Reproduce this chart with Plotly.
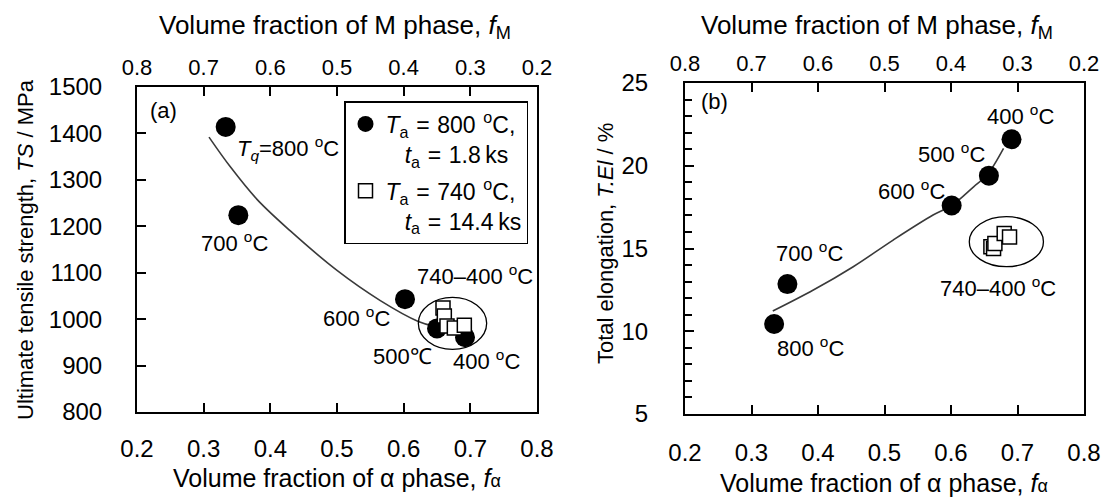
import plotly.graph_objects as go

# ---------------- data ----------------
# Panel (a): ultimate tensile strength
a_circle_f = [0.333, 0.352, 0.602, 0.650, 0.692]          # 800,700,600,500,400 C
a_circle_ts = [1414, 1224, 1043, 980, 961]
a_square_f = [0.659, 0.661, 0.665, 0.676, 0.691]
a_square_ts = [1024, 1007, 985, 981, 987]
a_curve_f = [0.308, 0.340, 0.380, 0.430, 0.500, 0.565, 0.622, 0.645]
a_curve_ts = [1392, 1328, 1258, 1190, 1105, 1040, 995, 985]

# Panel (b): total elongation
b_circle_f = [0.334, 0.354, 0.601, 0.657, 0.691]          # 800,700,600,500,400 C
b_circle_el = [10.44, 12.85, 17.6, 19.4, 21.6]
b_square_f = [0.660, 0.664, 0.666, 0.680, 0.688]
b_square_el = [15.1, 15.0, 15.3, 15.9, 15.7]
b_curve_f = [0.332, 0.393, 0.453, 0.513, 0.573, 0.601, 0.634, 0.654, 0.679]
b_curve_el = [11.22, 12.49, 13.9, 15.51, 17.02, 17.6, 18.73, 19.43, 21.05]

x_ticks = [0.2, 0.3, 0.4, 0.5, 0.6, 0.7, 0.8]
x_ticktext = ["0.2", "0.3", "0.4", "0.5", "0.6", "0.7", "0.8"]
ts_ticks = [800, 900, 1000, 1100, 1200, 1300, 1400, 1500]
el_ticks = [5, 10, 15, 20, 25]

DEG = "<sup>o</sup>C"
a_labels = [
    ("(a)", 0.239, 1450),
    ("<i>T</i><sub><i>q</i></sub>=800 " + DEG, 0.4265, 1368),
    ("700 " + DEG, 0.3455, 1167),
    ("740\u2013400 " + DEG, 0.707, 1095),
    ("600 " + DEG, 0.5295, 1005),
    ("500\u2103", 0.598, 919),
    ("400 " + DEG, 0.7245, 912),
]
b_labels = [
    ("(b)", 0.245, 23.87),
    ("400 " + DEG, 0.705, 23.07),
    ("500 " + DEG, 0.600, 20.79),
    ("600 " + DEG, 0.540, 18.53),
    ("700 " + DEG, 0.387, 14.81),
    ("800 " + DEG, 0.389, 9.07),
    ("740\u2013400 " + DEG, 0.670, 12.69),
]
a_ellipse = dict(x0=0.622, x1=0.7245, y0=935, y1=1047)
b_ellipse = dict(x0=0.6275, x1=0.739, y0=13.9, y1=16.92)

SP = "\u2004"
legend_circle = ("<i>T</i><sub>a</sub>" + SP + "=" + SP + "800" + SP + DEG + ",<br>\u00a0\u00a0\u00a0"
                 "<i>t</i><sub>a</sub>" + SP + "=" + SP + "1.8\u2009ks")
legend_square = ("<i>T</i><sub>a</sub>" + SP + "=" + SP + "740" + SP + DEG + ",<br>\u00a0\u00a0\u00a0"
                 "<i>t</i><sub>a</sub>" + SP + "=" + SP + "14.4\u2009ks")

# ---------------- figure ----------------
FONT = "Liberation Sans, Arial, sans-serif"
W, H = 1108, 502
fig = go.Figure()

line_style = dict(color="#3a3a3a", width=1.6, shape="spline")
circ = dict(symbol="circle", size=20, color="black")
sq = dict(symbol="square", size=14, color="white", line=dict(color="black", width=1.5))

fig.add_trace(go.Scatter(x=a_curve_f, y=a_curve_ts, mode="lines", line=line_style,
                         showlegend=False, xaxis="x", yaxis="y"))
fig.add_trace(go.Scatter(x=a_circle_f, y=a_circle_ts, mode="markers", marker=circ,
                         name=legend_circle, legendgroup="g1", xaxis="x", yaxis="y"))
fig.add_trace(go.Scatter(x=a_square_f, y=a_square_ts, mode="markers", marker=sq,
                         name=legend_square, legendgroup="g2", xaxis="x", yaxis="y"))

fig.add_trace(go.Scatter(x=b_curve_f, y=b_curve_el, mode="lines", line=line_style,
                         showlegend=False, xaxis="x2", yaxis="y2"))
fig.add_trace(go.Scatter(x=b_circle_f, y=b_circle_el, mode="markers", marker=circ,
                         showlegend=False, xaxis="x2", yaxis="y2"))
fig.add_trace(go.Scatter(x=b_square_f, y=b_square_el, mode="markers", marker=sq,
                         showlegend=False, xaxis="x2", yaxis="y2"))

axis_common = dict(showgrid=False, zeroline=False, showline=True, linecolor="black",
                   linewidth=2, ticks="inside", tickcolor="black", ticklen=9, tickwidth=1.5,
                   automargin=False)

dom_ax = [137 / W, 537 / W]
dom_bx = [685 / W, 1084 / W]
dom_ay = [1 - 412 / H, 1 - 87 / H]
dom_by = [1 - 414 / H, 1 - 83 / H]

fig.update_layout(
    width=W, height=H,
    margin=dict(l=0, r=0, t=0, b=0, autoexpand=False),
    paper_bgcolor="white", plot_bgcolor="white",
    font=dict(family=FONT, size=22, color="black"),
    xaxis=dict(domain=dom_ax, range=[0.2, 0.8], anchor="y", tickvals=x_ticks,
               ticktext=x_ticktext, tickfont=dict(size=24), ticklabelstandoff=14,
               **axis_common),
    yaxis=dict(domain=dom_ay, range=[800, 1500], anchor="x", tickvals=ts_ticks,
               mirror=True, tickfont=dict(size=24), ticklabelstandoff=28, **axis_common),
    xaxis3=dict(domain=dom_ax, range=[0.8, 0.2], anchor="y", overlaying="x", side="top",
                tickvals=x_ticks, ticktext=x_ticktext, tickfont=dict(size=22),
                ticklabelstandoff=1, **axis_common),
    xaxis2=dict(domain=dom_bx, range=[0.2, 0.8], anchor="y2", tickvals=x_ticks,
                ticktext=x_ticktext, tickfont=dict(size=24), ticklabelstandoff=16,
                **axis_common),
    yaxis2=dict(domain=dom_by, range=[5, 25], anchor="x2", tickvals=el_ticks,
                mirror=True, tickfont=dict(size=24), ticklabelstandoff=30,
                minor=dict(dtick=1, ticks="inside", ticklen=7, tickcolor="black", tickwidth=1.5),
                **axis_common),
    xaxis4=dict(domain=dom_bx, range=[0.8, 0.2], anchor="y2", overlaying="x2", side="top",
                tickvals=x_ticks, ticktext=x_ticktext, tickfont=dict(size=22),
                ticklabelstandoff=1, **axis_common),
    legend=dict(x=344 / W, y=1 - 101 / H, xanchor="left", yanchor="top",
                bgcolor="white", bordercolor="black", borderwidth=1.5,
                font=dict(family=FONT, size=23), valign="top", itemwidth=30,
                tracegroupgap=4),
    showlegend=True,
)

# invisible traces so top axes render
fig.add_trace(go.Scatter(x=[0.5], y=[1000], mode="markers", marker=dict(opacity=0),
                         showlegend=False, hoverinfo="skip", xaxis="x3", yaxis="y"))
fig.add_trace(go.Scatter(x=[0.5], y=[15], mode="markers", marker=dict(opacity=0),
                         showlegend=False, hoverinfo="skip", xaxis="x4", yaxis="y2"))

shapes = []
for ell, xr, yr in [(a_ellipse, "x", "y"), (b_ellipse, "x2", "y2")]:
    shapes.append(dict(type="circle", xref=xr, yref=yr, line=dict(color="black", width=1.3),
                       fillcolor="rgba(0,0,0,0)", **ell))
fig.update_layout(shapes=shapes)

ann = []
for t, x, y in a_labels:
    ann.append(dict(text=t, x=x, y=y, xref="x", yref="y", showarrow=False,
                    font=dict(size=22), xanchor="center", yanchor="middle"))
for t, x, y in b_labels:
    ann.append(dict(text=t, x=x, y=y, xref="x2", yref="y2", showarrow=False,
                    font=dict(size=22), xanchor="center", yanchor="middle"))

top_title = "Volume fraction of M phase, <i>f</i><sub>M</sub>"
bot_title = "Volume fraction of \u03b1 phase, <i>f</i><span style='font-size:18px'>\u03b1</span>"
ann += [
    dict(text=top_title, x=335 / W, y=1 - 27 / H, xref="paper", yref="paper",
         showarrow=False, font=dict(size=26), xanchor="center", yanchor="middle"),
    dict(text=top_title, x=877 / W, y=1 - 27 / H, xref="paper", yref="paper",
         showarrow=False, font=dict(size=26), xanchor="center", yanchor="middle"),
    dict(text=bot_title, x=337 / W, y=1 - 478 / H, xref="paper", yref="paper",
         showarrow=False, font=dict(size=25), xanchor="center", yanchor="middle"),
    dict(text=bot_title, x=884 / W, y=1 - 483 / H, xref="paper", yref="paper",
         showarrow=False, font=dict(size=25), xanchor="center", yanchor="middle"),
    dict(text="Ultimate tensile strength, <i>TS</i> / MPa", x=25 / W, y=1 - 250 / H,
         xref="paper", yref="paper", showarrow=False, textangle=-90,
         font=dict(size=22), xanchor="center", yanchor="middle"),
    dict(text="Total elongation, <i>T.El</i> / %", x=605 / W, y=1 - 244 / H,
         xref="paper", yref="paper", showarrow=False, textangle=-90,
         font=dict(size=22), xanchor="center", yanchor="middle"),
]
fig.update_layout(annotations=ann)

fig.write_html(
    "out.html",
    config={"displayModeBar": False},
    post_script="document.body.style.margin='0';document.body.style.overflow='hidden';",
)
